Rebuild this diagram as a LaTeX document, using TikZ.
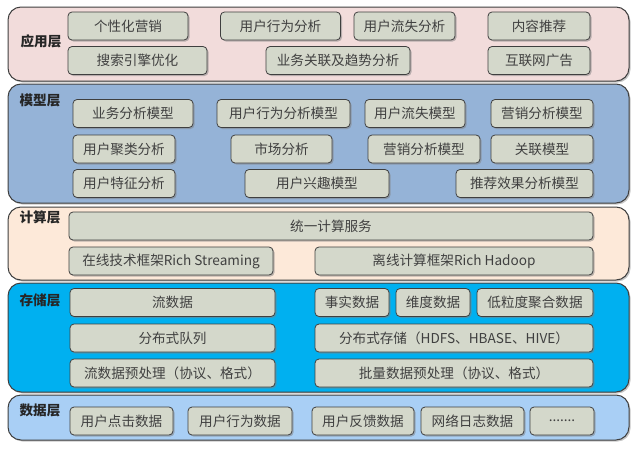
\documentclass[tikz,border=0pt]{standalone}
\usepackage{fontspec}
\setmainfont{Noto Sans CJK SC}
\usetikzlibrary{shadows,positioning}

\definecolor{appfill}{HTML}{F2DCDB}
\definecolor{modfill}{HTML}{95B3D7}
\definecolor{calfill}{HTML}{FDE9D9}
\definecolor{stofill}{HTML}{00B0F0}
\definecolor{datfill}{HTML}{A9CFF5}
\definecolor{itemfill}{HTML}{D4D8CB}
\definecolor{linegray}{HTML}{3F3F3F}
\definecolor{txtgray}{HTML}{404040}

\tikzset{
  layer/.style={draw=linegray,line width=1pt,rounded corners=13pt,
    drop shadow={shadow xshift=1.5pt,shadow yshift=-1.5pt,opacity=.45}},
  item/.style={draw=linegray,line width=.8pt,rounded corners=4pt,fill=itemfill,
    text=txtgray,font=\fontsize{13.6}{13.6}\selectfont,inner sep=0pt,
    minimum height=28pt,
    drop shadow={shadow xshift=1.5pt,shadow yshift=-1.5pt,opacity=.5}},
  title/.style={font=\fontsize{13.6}{13.6}\selectfont\bfseries,text=black!85}
}

\begin{document}
\begin{tikzpicture}[x=1pt,y=-1pt]
  \useasboundingbox (0,0) rectangle (637,450);
  % layers
  \draw[layer,fill=appfill] (8,7) rectangle (629,81);
  \draw[layer,fill=modfill] (8,84) rectangle (629,203);
  \draw[layer,fill=calfill] (8,207) rectangle (629,280);
  \draw[layer,fill=stofill] (8,283) rectangle (629,392);
  \draw[layer,fill=datfill] (8,395) rectangle (629,440);
  \node[title] (app) at (41,41) {应用层};
  \node[title] (mod) at (40,100) {模型层};
  \node[title] (cal) at (40,217) {计算层};
  \node[title] (sto) at (40,300) {存储层};
  \node[title] (dat) at (40,410) {数据层};

  % 应用层
  \node[item,minimum width=120pt] (a1) at (128,26) {个性化营销};
  \node[item,minimum width=120pt] (a2) at (280.5,26) {用户行为分析};
  \node[item,minimum width=101pt] (a3) at (404.5,26) {用户流失分析};
  \node[item,minimum width=102pt] (a4) at (539,26) {内容推荐};
  \node[item,minimum width=139pt] (a5) at (137.5,60.5) {搜索引擎优化};
  \node[item,minimum width=144pt] (a6) at (338,60.5) {业务关联及趋势分析};
  \node[item,minimum width=102pt] (a7) at (539,60.5) {互联网广告};

  % 模型层
  \node[item,minimum width=120pt] (m1) at (133,113.5) {业务分析模型};
  \node[item,minimum width=133pt] (m2) at (283.5,113.5) {用户行为分析模型};
  \node[item,minimum width=100pt] (m3) at (415,113.5) {用户流失模型};
  \node[item,minimum width=102pt] (m4) at (542,113.5) {营销分析模型};
  \node[item,minimum width=102pt] (m5) at (124,149) {用户聚类分析};
  \node[item,minimum width=101pt] (m6) at (281.5,149) {市场分析};
  \node[item,minimum width=112pt] (m7) at (424,149) {营销分析模型};
  \node[item,minimum width=102pt] (m8) at (542,149) {关联模型};
  \node[item,minimum width=102pt] (m9) at (124,183.5) {用户特征分析};
  \node[item,minimum width=144pt] (m10) at (317,183.5) {用户兴趣模型};
  \node[item,minimum width=137pt] (m11) at (524.5,183.5) {推荐效果分析模型};

  % 计算层
  \node[item,minimum width=524pt] (c1) at (331,226) {统一计算服务};
  \node[item,minimum width=204pt] (c2) at (171,261) {在线技术框架Rich Streaming};
  \node[item,minimum width=278pt] (c3) at (454,261) {离线计算框架Rich Hadoop};

  % 存储层
  \node[item,minimum width=205pt] (s1) at (172.5,302.5) {流数据};
  \node[item,minimum width=74pt] (s2) at (352,302.5) {事实数据};
  \node[item,minimum width=74pt] (s3) at (433,302.5) {维度数据};
  \node[item,minimum width=116pt] (s4) at (535,302.5) {低粒度聚合数据};
  \node[item,minimum width=205pt] (s5) at (172.5,338) {分布式队列};
  \node[item,minimum width=278pt] (s6) at (454,338) {分布式存储（HDFS、HBASE、HIVE）};
  \node[item,minimum width=205pt] (s7) at (172.5,373) {流数据预处理（协议、格式）};
  \node[item,minimum width=278pt] (s8) at (454,373) {批量数据预处理（协议、格式）};

  % 数据层
  \node[item,minimum width=103pt] (d1) at (121.5,421) {用户点击数据};
  \node[item,minimum width=104pt] (d2) at (240,421) {用户行为数据};
  \node[item,minimum width=102pt] (d3) at (363,421) {用户反馈数据};
  \node[item,minimum width=103pt] (d4) at (472.5,421) {网络日志数据};
  \node[item,minimum width=64pt] (d5) at (562,421) {.......};
\end{tikzpicture}
\end{document}
